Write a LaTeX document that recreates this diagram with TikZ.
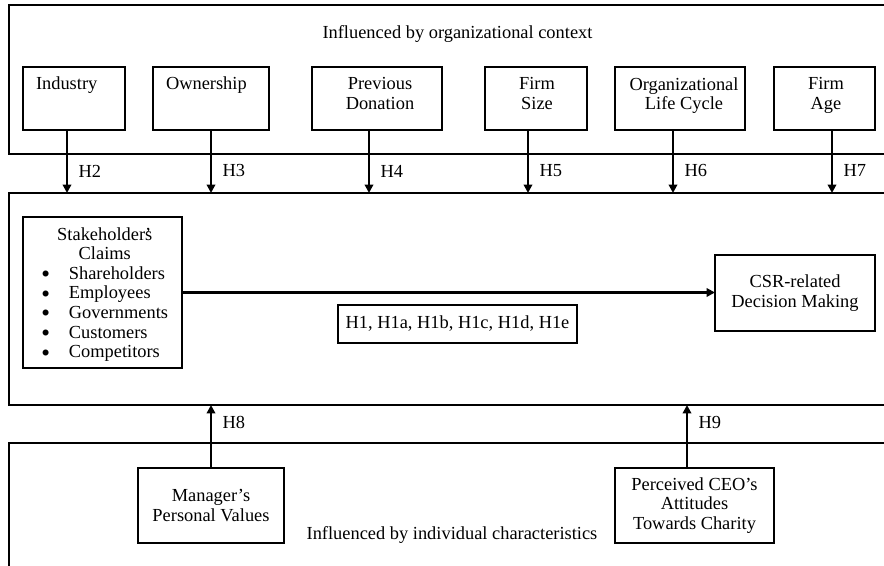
\documentclass[tikz,border=0pt]{standalone}
\usepackage{fontspec}
\setmainfont{Liberation Serif}
\usetikzlibrary{arrows.meta}
% round list mark, larger than the text bullet
\newcommand{\listdot}{\raisebox{0.8pt}{\fontsize{7.5}{7.5}\selectfont$\bullet$}}
\begin{document}
\begin{tikzpicture}[x=0.5pt, y=-0.5pt,
  every node/.style={font=\fontsize{9.2}{9.8}\selectfont, inner sep=0pt, outer sep=0pt},
  frame/.style={draw, line width=1.3pt, minimum width=445.5pt},
  cell/.style={draw, line width=1.1pt},
  txt/.style={align=center},
  arr/.style={line width=1.3pt, -{Triangle[length=4.2pt,width=4.2pt]}},
  hlab/.style={anchor=west, xshift=5.8pt}]
\useasboundingbox (0,0) rectangle (884,566);
\clip (0,0) rectangle (884,566);

% three framing bands
\node[frame, minimum height=74.5pt] (ctx) at (454.5,79.5) {};
\node[frame, minimum height=106pt]  (core) at (454.5,299) {};
\node[frame, minimum height=68.5pt] (indiv) at (454.5,511.5) {};

\node[anchor=base] (ctx-t) at (457.5,39) {Influenced by organizational context};
\node[anchor=base] (indiv-t) at (452,539) {Influenced by individual characteristics};

% organizational factors
\node[cell, minimum width=51pt,   minimum height=31.5pt] (ind)  at (74,98.5) {};
\node[cell, minimum width=58pt,   minimum height=31.5pt] (own)  at (211,98.5) {};
\node[cell, minimum width=65pt,   minimum height=31.5pt] (prev) at (377,98.5) {};
\node[cell, minimum width=51pt,   minimum height=31.5pt] (size) at (536,98.5) {};
\node[cell, minimum width=65pt,   minimum height=31.5pt] (olc)  at (680,98.5) {};
\node[cell, minimum width=50.5pt, minimum height=31.5pt] (age)  at (824.5,98.5) {};

\node[anchor=base west] (ind-t) at (36,90) {Industry};
\node[anchor=base west] (own-t) at (166,90) {Ownership};
\node[txt, anchor=north] (prev-t) at (380,77.4) {Previous\\Donation};
\node[txt, anchor=north] (size-t) at (537,77.4) {Firm\\Size};
\node[txt, anchor=north] (olc-t)  at (684,77.4) {Organizational\\Life Cycle};
\node[txt, anchor=north] (age-t)  at (826,77.4) {Firm\\Age};

\draw[arr] ([xshift=-3.5pt]ind.south) -- ([xshift=-3.5pt]ind.south |- core.north) node[hlab, pos=0.65] {H2};
\draw[arr] (own.south) -- (own.south |- core.north) node[hlab, pos=0.65] {H3};
\draw[arr] ([xshift=-4pt]prev.south) -- ([xshift=-4pt]prev.south |- core.north) node[hlab, pos=0.65] {H4};
\draw[arr] ([xshift=-4pt]size.south) -- ([xshift=-4pt]size.south |- core.north) node[hlab, pos=0.65] {H5};
\draw[arr] ([xshift=-3.5pt]olc.south) -- ([xshift=-3.5pt]olc.south |- core.north) node[hlab, pos=0.65] {H6};
\draw[arr] ([xshift=3.75pt]age.south) -- ([xshift=3.75pt]age.south |- core.north) node[hlab, pos=0.65] {H7};

% stakeholder claims and decision making
\node[cell, minimum width=79.5pt, minimum height=75.5pt] (stk) at (102.5,292.5) {};
\node[anchor=north west] (stk-t) at (41.5,226.3) {%
  \begin{tabular}{@{}c@{\hspace{9.6pt}}l@{}}
  \multicolumn{2}{@{}c@{}}{Stakeholder\rlap{’}s}\\
  \multicolumn{2}{@{}c@{}}{Claims}\\
  \listdot & Shareholders\\
  \listdot & Employees\\
  \listdot & Governments\\
  \listdot & Customers\\
  \listdot & Competitors
  \end{tabular}};

\node[cell, txt, minimum width=80pt, minimum height=38pt] (csr) at (795,293) {CSR-related\\Decision Making};
\node[cell, minimum width=119.5pt, minimum height=19pt] (hyp) at (457.5,324) {H1, H1a, H1b, H1c, H1d, H1e};

\draw[arr] (stk.east) -- (stk.east -| csr.west);

% individual characteristics
\node[cell, txt, minimum width=73pt, minimum height=37.5pt] (mgr) at (211,505.5) {Manager’s\\Personal Values};
\node[cell, txt, minimum width=79.5pt, minimum height=37.5pt] (ceo) at (694.5,505.5) {Perceived CEO’s\\Attitudes\\Towards Charity};

\draw[arr] (mgr.north) -- (mgr.north |- core.south) node[hlab, pos=0.73] {H8};
\draw[arr] ([xshift=-3.75pt]ceo.north) -- ([xshift=-3.75pt]ceo.north |- core.south) node[hlab, pos=0.73] {H9};
\end{tikzpicture}
\end{document}
